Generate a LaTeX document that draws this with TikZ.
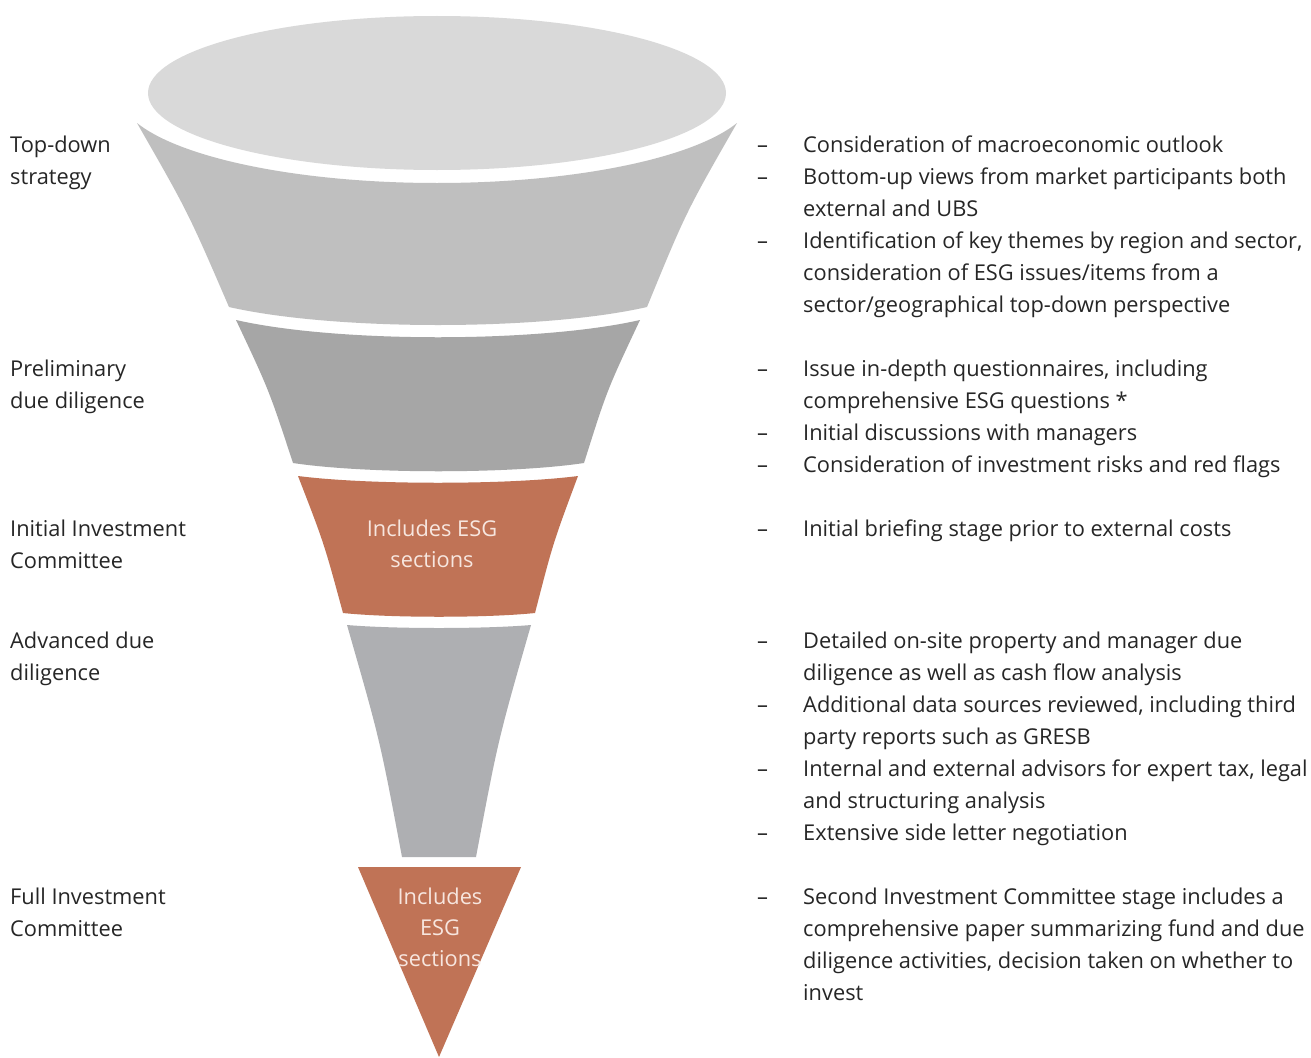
\documentclass[tikz,border=0pt]{standalone}
\usepackage{fontspec}
\setmainfont{Open Sans}
\definecolor{ellc}{HTML}{D9D9D9}
\definecolor{segA}{HTML}{BFBFBF}
\definecolor{segB}{HTML}{A6A6A6}
\definecolor{segC}{HTML}{C07356}
\definecolor{segD}{HTML}{AEAFB2}
\definecolor{txtc}{HTML}{262626}
\definecolor{intxt}{HTML}{F7E6DF}
\begin{document}
\begin{tikzpicture}[x=1pt,y=-1pt,
  lbl/.style={anchor=base west,inner sep=0pt,font=\fontsize{21.8}{32}\selectfont,text=txtc},
  inl/.style={anchor=base,inner sep=0pt,font=\fontsize{21.8}{32}\selectfont,text=intxt}]
\useasboundingbox[fill=white] (0,0) rectangle (1311,1057);
% funnel
\fill[ellc] (437,93) ellipse [x radius=289, y radius=77];
\fill[segA] (137,123) .. controls (182,159) and (302,183) .. (437,183)
  .. controls (572,183) and (692,159) .. (737,123)
  .. controls (686,212) .. (647,307)
  .. controls (542,331) and (334,331) .. (229,307)
  .. controls (188,212) .. cycle;
\fill[segB] (236,320) .. controls (337,343) and (539,343) .. (640,320)
  .. controls (607,390) .. (584,463)
  .. controls (511,474) and (366,474) .. (293,463)
  .. controls (269,390) .. cycle;
\fill[segC] (298,476) .. controls (368,485) and (508,485) .. (578,476)
  .. controls (553,543) .. (535,613)
  .. controls (487,618) and (391,618) .. (343,613)
  .. controls (324,543) .. cycle;
\fill[segD] (347,625) .. controls (393,629) and (485,629) .. (531,625)
  .. controls (498,740) .. (476,857) -- (402,857)
  .. controls (380,740) .. cycle;
\fill[segC] (358,867) -- (521,867) -- (439,1057) -- cycle;
% text inside
\node[inl] (esgA1) at (432,536) {Includes ESG};
\node[inl] (esgA2) at (432,567) {sections};
\node[inl] (esgB1) at (440,904) {Includes};
\node[inl] (esgB2) at (440,935) {ESG};
\node[inl] (esgB3) at (440,966) {sections};
% left labels
\foreach \y/\t in {145/{Top-down},177/{strategy},369/{Preliminary},401/{due diligence},
  529/{Initial Investment},561/{Committee},641/{Advanced due},673/{diligence},
  897/{Full Investment},929/{Committee}}
  \node[lbl] (L\y) at (10,\y+7) {\t};
% dashes
\foreach \y in {145,177,241,369,433,465,529,641,705,769,833,897}
  \node[lbl] (D\y) at (757,\y+7) {–};
% right text
\foreach \y/\t in {145/{Consideration of macroeconomic outlook},
  177/{Bottom-up views from market participants both},
  209/{external and UBS},
  241/{Identification of key themes by region and sector,},
  273/{consideration of ESG issues/items from a},
  305/{sector/geographical top-down perspective},
  369/{Issue in-depth questionnaires, including},
  401/{comprehensive ESG questions *},
  433/{Initial discussions with managers},
  465/{Consideration of investment risks and red flags},
  529/{Initial briefing stage prior to external costs},
  641/{Detailed on-site property and manager due},
  673/{diligence as well as cash flow analysis},
  705/{Additional data sources reviewed, including third},
  737/{party reports such as GRESB},
  769/{Internal and external advisors for expert tax, legal},
  801/{and structuring analysis},
  833/{Extensive side letter negotiation},
  897/{Second Investment Committee stage includes a},
  929/{comprehensive paper summarizing fund and due},
  961/{diligence activities, decision taken on whether to},
  993/{invest}}
  \node[lbl] (R\y) at (803,\y+7) {\t};
\end{tikzpicture}
\end{document}
